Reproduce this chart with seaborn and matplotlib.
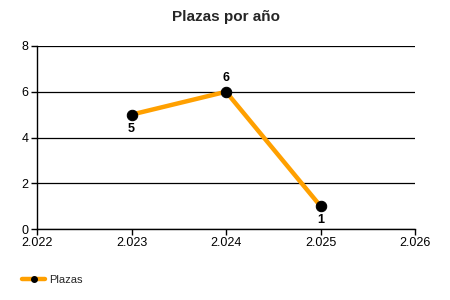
import matplotlib
matplotlib.use("Agg")
import matplotlib.pyplot as plt
import seaborn as sns
import pandas as pd
from matplotlib.lines import Line2D

years = [2023, 2024, 2025]
plazas = [5, 6, 1]
labels_pos = ["below", "above", "below"]
x_ticks = [2022, 2023, 2024, 2025, 2026]
x_tick_labels = ["2.022", "2.023", "2.024", "2.025", "2.026"]
y_ticks = [0, 2, 4, 6, 8]

sns.set_style("white")
plt.rcParams['font.family'] = ['Liberation Sans', 'DejaVu Sans']

df = pd.DataFrame({"Año": years, "Plazas": plazas})

fig = plt.figure(figsize=(4.5, 3), dpi=100)
ax = fig.add_axes([37/450, 71/300, (415-37)/450, (229-46)/300])

sns.lineplot(data=df, x="Año", y="Plazas", ax=ax, color="#FFA000", linewidth=3.2,
             marker="o", markersize=7.5, markerfacecolor="black", markeredgecolor="black",
             legend=False, zorder=3)

for x, y, p in zip(years, plazas, labels_pos):
    off = -10 if p == "below" else 10
    ax.annotate(str(y), (x, y), xytext=(0, off), textcoords="offset points",
                ha="center", va="center", fontsize=9, fontweight="bold", color="black")

ax.set_xlim(2022, 2026)
ax.set_ylim(0, 8)
ax.set_xticks(x_ticks)
ax.set_xticklabels(x_tick_labels)
ax.set_yticks(y_ticks)
ax.grid(axis="y", color="black", linewidth=0.9)
ax.grid(axis="x", visible=False)
ax.set_axisbelow(True)
for s in ["top", "right"]:
    ax.spines[s].set_visible(False)
for s in ["left", "bottom"]:
    ax.spines[s].set_color("black")
    ax.spines[s].set_linewidth(1.0)
ax.tick_params(axis="both", direction="out", length=4, width=1, color="black",
               labelsize=9, labelcolor="black", bottom=True, left=True, pad=2)
ax.set_xlabel("")
ax.set_ylabel("")
ax.set_title("Plazas por año", fontsize=11, fontweight="bold", pad=18)

handle = Line2D([], [], color="#FFA000", linewidth=3.2, marker="o", markersize=4,
                markerfacecolor="black", markeredgecolor="black")
leg = ax.legend([handle], ["Plazas"], loc="lower left", bbox_to_anchor=(-0.065, -0.36),
                frameon=False, fontsize=8, handlelength=2.0, handletextpad=0.4)

fig.savefig("out.png", dpi=100)
